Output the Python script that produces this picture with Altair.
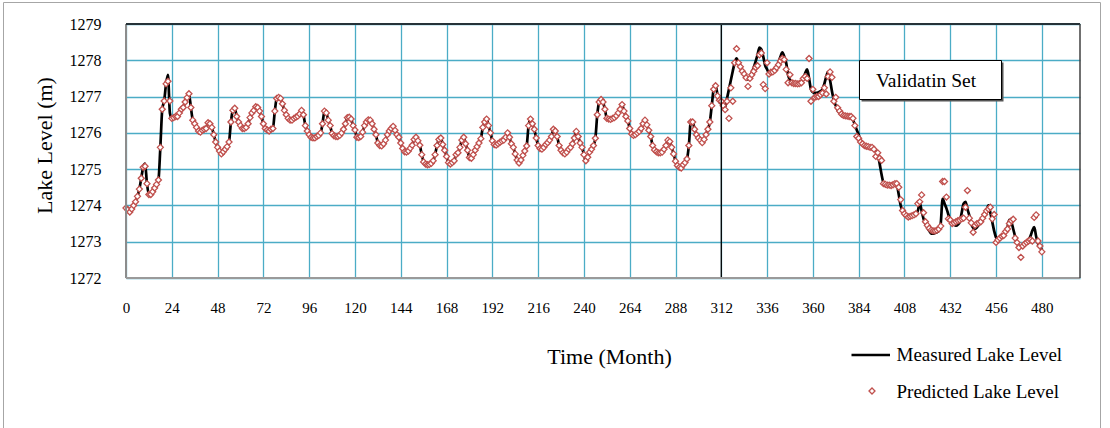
import altair as alt
import pandas as pd

# ---------------- data ----------------
MEASURED = [
    1273.93, 1273.88, 1273.82, 1273.9, 1274.0, 1274.1, 1274.25, 1274.45, 1274.75, 1275.05, 1275.15, 1274.6,
    1274.3, 1274.3, 1274.38, 1274.48, 1274.58, 1274.7, 1275.6, 1276.65, 1276.88, 1277.35, 1277.6, 1276.55,
    1276.4, 1276.42, 1276.45, 1276.45, 1276.55, 1276.65, 1276.7, 1276.85, 1276.97, 1277.08, 1276.7, 1276.35,
    1276.25, 1276.15, 1276.05, 1276.02, 1276.07, 1276.1, 1276.12, 1276.28, 1276.25, 1276.15, 1275.95, 1275.75,
    1275.6, 1275.5, 1275.42, 1275.48, 1275.55, 1275.62, 1275.75, 1276.3, 1276.62, 1276.68, 1276.45, 1276.3,
    1276.2, 1276.12, 1276.12, 1276.15, 1276.25, 1276.42, 1276.55, 1276.62, 1276.72, 1276.7, 1276.6, 1276.45,
    1276.25, 1276.12, 1276.08, 1276.05, 1276.1, 1276.12, 1276.6, 1276.95, 1276.98, 1276.95, 1276.8, 1276.62,
    1276.5, 1276.4, 1276.35, 1276.35, 1276.4, 1276.43, 1276.46, 1276.52, 1276.62, 1276.5, 1276.2, 1276.05,
    1275.95, 1275.88, 1275.86, 1275.86, 1275.9, 1275.93, 1276.0, 1276.25, 1276.6, 1276.55, 1276.35, 1276.2,
    1275.98, 1275.92, 1275.9, 1275.9, 1275.93, 1276.0, 1276.1, 1276.25, 1276.42, 1276.43, 1276.38, 1276.2,
    1276.08, 1275.88, 1275.87, 1275.9, 1276.02, 1276.2, 1276.3, 1276.36, 1276.35, 1276.25, 1276.1, 1275.95,
    1275.72, 1275.65, 1275.64, 1275.7, 1275.8, 1275.95, 1276.05, 1276.12, 1276.18, 1276.07, 1275.95, 1275.88,
    1275.72, 1275.57, 1275.48, 1275.47, 1275.5, 1275.58, 1275.66, 1275.82, 1275.88, 1275.78, 1275.66, 1275.4,
    1275.2, 1275.14, 1275.12, 1275.13, 1275.16, 1275.23, 1275.4, 1275.65, 1275.82, 1275.86, 1275.68, 1275.52,
    1275.35, 1275.18, 1275.14, 1275.18, 1275.23, 1275.4, 1275.45, 1275.6, 1275.8, 1275.88, 1275.7, 1275.52,
    1275.32, 1275.3, 1275.4, 1275.52, 1275.62, 1275.72, 1275.84, 1276.15, 1276.3, 1276.38, 1276.2, 1276.0,
    1275.78, 1275.68, 1275.66, 1275.7, 1275.74, 1275.78, 1275.8, 1275.88, 1276.0, 1275.88, 1275.7, 1275.6,
    1275.42, 1275.25, 1275.17, 1275.25, 1275.38, 1275.5, 1275.64, 1276.2, 1276.38, 1276.25, 1276.1, 1275.86,
    1275.65, 1275.57, 1275.55, 1275.6, 1275.68, 1275.73, 1275.8, 1275.9, 1276.1, 1276.05, 1275.9, 1275.65,
    1275.52, 1275.45, 1275.42, 1275.47, 1275.55, 1275.6, 1275.7, 1275.86, 1276.04, 1275.9, 1275.72, 1275.6,
    1275.4, 1275.23, 1275.33, 1275.47, 1275.55, 1275.65, 1275.85, 1276.5, 1276.85, 1276.92, 1276.85, 1276.65,
    1276.4, 1276.38, 1276.37, 1276.4, 1276.42, 1276.47, 1276.55, 1276.65, 1276.78, 1276.6, 1276.45, 1276.33,
    1276.12, 1275.97, 1275.93, 1275.95, 1276.0, 1276.04, 1276.12, 1276.25, 1276.35, 1276.22, 1276.07, 1275.9,
    1275.65, 1275.53, 1275.48, 1275.45, 1275.45, 1275.47, 1275.55, 1275.65, 1275.8, 1275.76, 1275.6, 1275.42,
    1275.22, 1275.1, 1275.05, 1275.03, 1275.12, 1275.18, 1275.28, 1275.65, 1276.3, 1276.3, 1276.1, 1275.95,
    1275.86, 1275.8, 1275.73, 1275.82, 1275.95, 1276.1, 1276.3, 1276.75, 1277.2, 1277.3, 1277.05, 1276.85,
    1276.8, 1276.75, 1276.72, 1276.95, 1277.2, 1277.45, 1277.7, 1277.93, 1278.05, 1277.95, 1277.85, 1277.7,
    1277.6, 1277.5, 1277.47, 1277.52, 1277.65, 1277.8, 1277.97, 1278.15, 1278.35, 1278.3, 1278.1, 1277.85,
    1277.75, 1277.65, 1277.65, 1277.7, 1277.75, 1277.85, 1277.95, 1278.1, 1278.22, 1278.1, 1277.93, 1277.6,
    1277.45, 1277.38, 1277.35, 1277.35, 1277.35, 1277.35, 1277.38, 1277.5, 1277.65, 1277.75, 1277.5, 1277.2,
    1277.12, 1277.1, 1277.1, 1277.12, 1277.15, 1277.2, 1277.35, 1277.55, 1277.68, 1277.45, 1277.15, 1276.9,
    1276.75, 1276.62, 1276.55, 1276.5, 1276.47, 1276.46, 1276.45, 1276.43, 1276.41, 1276.35, 1276.23, 1276.08,
    1275.95, 1275.8, 1275.72, 1275.67, 1275.63, 1275.6, 1275.58, 1275.56, 1275.54, 1275.5, 1275.4, 1275.15,
    1274.85, 1274.62, 1274.55, 1274.55, 1274.55, 1274.55, 1274.55, 1274.58, 1274.55, 1274.3, 1274.0, 1273.85,
    1273.77, 1273.72, 1273.68, 1273.68, 1273.7, 1273.73, 1273.78, 1273.85, 1274.08, 1273.85, 1273.63, 1273.5,
    1273.38, 1273.3, 1273.22, 1273.22, 1273.24, 1273.26, 1273.3, 1273.5, 1274.18, 1274.05, 1273.92, 1273.75,
    1273.6, 1273.52, 1273.47, 1273.44, 1273.47, 1273.55, 1273.8, 1274.05, 1274.1, 1273.9, 1273.72, 1273.5,
    1273.38, 1273.36, 1273.4, 1273.47, 1273.53, 1273.65, 1273.78, 1273.85, 1274.0, 1273.8, 1273.55, 1273.3,
    1273.12, 1273.07, 1273.1, 1273.15, 1273.2, 1273.25, 1273.4, 1273.6, 1273.55, 1273.35, 1273.15, 1272.97,
    1272.88, 1272.85, 1272.88, 1272.92, 1272.96, 1273.05, 1273.15, 1273.3, 1273.4, 1273.15, 1272.95, 1272.85,
    1272.78,
]

# predicted values in the validation part (months 313..480)
PRED_VALIDATION = [
    1276.75, 1276.64, 1276.87, 1276.4, 1277.24, 1276.87, 1277.93, 1278.32, 1277.93, 1277.82, 1277.7,
    1277.62, 1277.52, 1277.28, 1277.5, 1277.6, 1277.7, 1277.8, 1277.85, 1278.15, 1278.2, 1277.33, 1277.22,
    1277.93, 1277.62, 1277.67, 1277.68, 1277.72, 1277.8, 1277.88, 1277.98, 1278.05, 1278.02, 1277.75, 1277.38,
    1277.6, 1277.38, 1277.36, 1277.36, 1277.35, 1277.36, 1277.38, 1277.5, 1277.55, 1277.5, 1278.05, 1276.87,
    1277.2, 1276.98, 1277.0, 1277.0, 1277.05, 1277.1, 1277.24, 1277.07, 1277.55, 1277.68, 1277.53, 1276.87,
    1276.98, 1276.69, 1276.6, 1276.52, 1276.48, 1276.47, 1276.46, 1276.45, 1276.45, 1276.4, 1276.2, 1275.9,
    1275.85, 1275.75, 1275.7, 1275.65, 1275.63, 1275.62, 1275.6, 1275.6, 1275.55, 1275.35, 1275.45, 1275.3,
    1275.24, 1274.6, 1274.58, 1274.56, 1274.56, 1274.55, 1274.57, 1274.6, 1274.6, 1274.5, 1274.16, 1273.86,
    1273.77, 1273.72, 1273.68, 1273.7, 1273.72, 1273.74, 1273.77, 1274.05, 1274.1, 1274.29, 1273.8, 1273.55,
    1273.45, 1273.37, 1273.32, 1273.3, 1273.3, 1273.32, 1273.35, 1273.43, 1274.66, 1274.66, 1274.23, 1273.63,
    1273.6, 1273.5, 1273.52, 1273.55, 1273.58, 1273.6, 1273.63, 1273.65, 1273.95, 1274.41, 1273.65, 1273.52,
    1273.26, 1273.45, 1273.5, 1273.52, 1273.55, 1273.65, 1273.75, 1273.85, 1273.9, 1273.95, 1273.63, 1273.75,
    1272.98, 1273.05, 1273.1, 1273.15, 1273.17, 1273.28, 1273.35, 1273.5, 1273.58, 1273.62, 1273.1, 1272.98,
    1272.84, 1272.57, 1272.88, 1272.94, 1272.98, 1273.02, 1273.05, 1273.02, 1273.67, 1273.74, 1273.02, 1272.88,
    1272.72,
]

# in the calibration part (months 0..312) the predicted markers sit on the
# measured line, except at these months
PRED_CAL_DIFFERENT = {10: 1275.08, 22: 1277.42, 23: 1276.88, 310: 1277.02, 311: 1276.9, 312: 1276.87}

SPLIT_MONTH = [312]
X_TICKS = list(range(0, 481, 24))
Y_TICKS = list(range(1272, 1280))
SERIES_NAMES = ["Measured Lake Level", "Predicted Lake Level"]
BOX_TEXT = "Validatin Set"

# ---------------- tables ----------------
months = list(range(len(MEASURED)))
pred_cal = [PRED_CAL_DIFFERENT.get(i, MEASURED[i]) for i in range(313)]
predicted = pred_cal + PRED_VALIDATION

df_meas = pd.DataFrame({"month": months, "level": MEASURED})
df_pred = pd.DataFrame({"month": list(range(len(predicted))), "level": predicted})
df_split = pd.DataFrame({"month": SPLIT_MONTH})

# ---------------- style ----------------
W, H = 954, 254
FONT = "Liberation Serif"
GRID = "#4BACC6"
RED = "#C0504D"

xscale = alt.Scale(domain=[0, 500], nice=False, zero=False)
yscale = alt.Scale(domain=[1272, 1279], nice=False, zero=False)

x_enc = alt.X(
    "month:Q", scale=xscale,
    axis=alt.Axis(
        values=X_TICKS, format="d", grid=True, gridColor=GRID, gridWidth=1.3,
        domain=False, ticks=False, labelFont=FONT, labelFontSize=15,
        labelColor="black", labelPadding=22, labelFlush=False,
        title="Time (Month)", titleFont=FONT, titleFontSize=22,
        titleFontWeight="normal", titleColor="black",
        titleX=483, titleY=78, titleAlign="center", titleBaseline="middle",
    ),
)
y_enc = alt.Y(
    "level:Q", scale=yscale,
    axis=alt.Axis(
        values=Y_TICKS, format="d", grid=True, gridColor=GRID, gridWidth=1.3,
        domain=False, ticks=False, labelFont=FONT, labelFontSize=16,
        labelColor="black", labelPadding=25, labelFlush=False,
        title="Lake Level (m)", titleFont=FONT, titleFontSize=22,
        titleFontWeight="normal", titleColor="black", titleAngle=270,
        titleX=-82, titleY=121, titleAlign="center", titleBaseline="middle",
    ),
)

measured_line = alt.Chart(df_meas).mark_line(
    color="black", strokeWidth=2.7, interpolate="monotone"
).encode(x=x_enc, y=y_enc)

predicted_pts = alt.Chart(df_pred).mark_point(
    shape="diamond", size=36, filled=True, fill="white", stroke=RED,
    strokeWidth=1.3, opacity=1
).encode(x=x_enc, y=y_enc)

split_rule = alt.Chart(df_split).mark_rule(color="black", strokeWidth=1.3).encode(
    x=alt.X("month:Q", scale=xscale)
)

one = pd.DataFrame({"k": [0]})

# plot-area frame
frame_top = alt.Chart(one).mark_rule(color="#263238", strokeWidth=2).encode(
    x=alt.value(0), x2=alt.value(W), y=alt.value(0))
frame_right = alt.Chart(one).mark_rule(color="#404040", strokeWidth=1.5).encode(
    x=alt.value(W), y=alt.value(0), y2=alt.value(H))
frame_left = alt.Chart(one).mark_rule(color="#8c8c8c", strokeWidth=2).encode(
    x=alt.value(0), y=alt.value(0), y2=alt.value(H))
frame_bottom = alt.Chart(one).mark_rule(color="#9a9a9a", strokeWidth=2).encode(
    x=alt.value(0), x2=alt.value(W), y=alt.value(H))

# outer chart border
outer = alt.Chart(one).mark_rect(fill=None, stroke="#a6a6a6", strokeWidth=1).encode(
    x=alt.value(-122.5), x2=alt.value(974.5), y=alt.value(-21.5), y2=alt.value(420))

# "Validatin Set" box
box_shadow = alt.Chart(one).mark_rect(color="#555555").encode(
    x=alt.value(735.5), x2=alt.value(877.5), y=alt.value(38.5), y2=alt.value(77.5))
box = alt.Chart(one).mark_rect(fill="white", stroke="black", strokeWidth=1).encode(
    x=alt.value(733.5), x2=alt.value(875.5), y=alt.value(36.5), y2=alt.value(75.5))
box_text = alt.Chart(one).mark_text(
    font=FONT, fontSize=19.5, color="black", align="center", baseline="middle"
).encode(x=alt.value(800), y=alt.value(56.5), text=alt.value(BOX_TEXT))

# legend
leg_line = alt.Chart(one).mark_rule(color="black", strokeWidth=2.7).encode(
    x=alt.value(725.5), x2=alt.value(764), y=alt.value(331))
leg_text1 = alt.Chart(one).mark_text(
    font=FONT, fontSize=19, color="black", align="left", baseline="middle"
).encode(x=alt.value(770.5), y=alt.value(331), text=alt.value(SERIES_NAMES[0]))
leg_pt = alt.Chart(one).mark_point(
    shape="diamond", size=36, filled=True, fill="white", stroke=RED, strokeWidth=1.3, opacity=1
).encode(x=alt.value(746), y=alt.value(367))
leg_text2 = alt.Chart(one).mark_text(
    font=FONT, fontSize=19, color="black", align="left", baseline="middle"
).encode(x=alt.value(770.5), y=alt.value(368), text=alt.value(SERIES_NAMES[1]))

chart = alt.layer(
    outer, measured_line, predicted_pts, split_rule,
    frame_left, frame_bottom, frame_top, frame_right,
    box_shadow, box, box_text,
    leg_line, leg_text1, leg_pt, leg_text2,
).properties(
    width=W, height=H,
    autosize=alt.AutoSizeParams(type="none"),
    padding={"left": 126, "top": 24, "right": 30, "bottom": 150},
    background="white",
).configure_view(stroke=None)

chart.save("out.html", embed_options={"renderer": "svg", "actions": False})
